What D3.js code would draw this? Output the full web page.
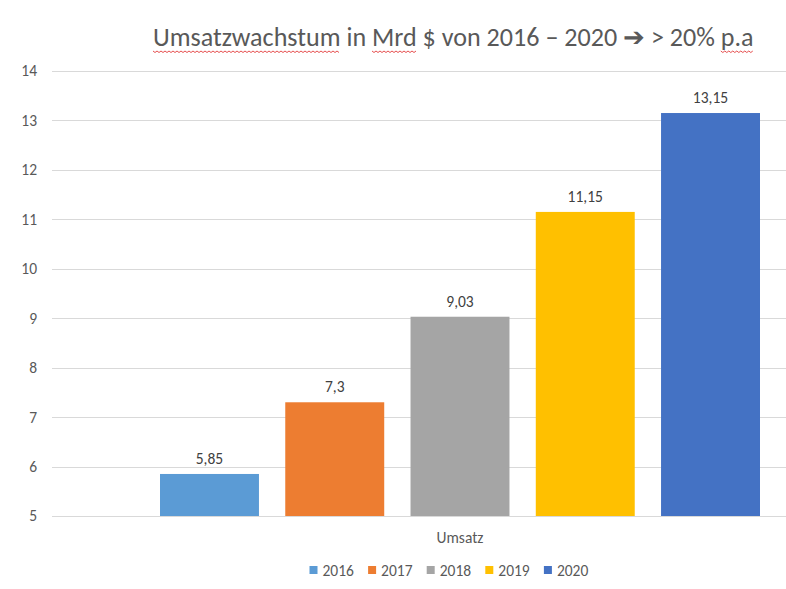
<!DOCTYPE html>
<html><head><meta charset="utf-8">
<script src="https://cdn.jsdelivr.net/npm/d3@7"></script>
<style>body{margin:0;background:#fff}svg{display:block}</style>
</head><body>
<svg id="c" width="786" height="589"></svg>
<script>
const titleText = "Umsatzwachstum in Mrd $ von 2016 – 2020 ➔ > 20% p.a";
const category = "Umsatz";
const years = ["2016","2017","2018","2019","2020"];
const values = [5.85, 7.3, 9.03, 11.15, 13.15];
const valueLabels = ["5,85","7,3","9,03","11,15","13,15"];
const colors = ["#5B9BD5","#ED7D31","#A5A5A5","#FFC000","#4472C4"];
const yTicks = [5,6,7,8,9,10,11,12,13,14];
const underlined = ["Umsatzwachstum","Mrd","p.a"];

const svg = d3.select("#c");
const font = "Carlito, Lato, 'Open Sans', sans-serif";
const txt = "#595959";
const fsz = 15.5;

const y = d3.scaleLinear().domain([5,14]).range([516,71]);
const x = d3.scaleBand().domain(years).range([160,760]).paddingInner(0.21).paddingOuter(0);

// gridlines + y labels
const yAxis = d3.axisLeft(y).tickValues(yTicks).tickSize(-(786-52)).tickPadding(15).tickFormat(d3.format("d"));
const ga = svg.append("g").attr("transform","translate(52,0)").call(yAxis);
ga.select(".domain").remove();
ga.selectAll(".tick line").attr("stroke","#d9d9d9").attr("stroke-width",1).attr("shape-rendering","crispEdges");
ga.selectAll(".tick text").attr("fill",txt).attr("font-family",font).attr("font-size",fsz);

// bars
svg.append("g").selectAll("rect").data(values).join("rect")
  .attr("x",(d,i)=>x(years[i])).attr("width",x.bandwidth())
  .attr("y",d=>y(d)).attr("height",d=>y(5)-y(d))
  .attr("fill",(d,i)=>colors[i]);

// value labels
svg.append("g").selectAll("text").data(values).join("text")
  .attr("x",(d,i)=>x(years[i])+x.bandwidth()/2).attr("y",d=>y(d)-10)
  .attr("text-anchor","middle").attr("fill","#404040").attr("font-family",font).attr("font-size",fsz)
  .text((d,i)=>valueLabels[i]);

// category label
svg.append("text").attr("x",460).attr("y",543).attr("text-anchor","middle")
  .attr("fill",txt).attr("font-family",font).attr("font-size",fsz).text(category);

// legend
const lg = svg.append("g").selectAll("g").data(years).join("g")
  .attr("transform",(d,i)=>`translate(${309.5+i*58.6},0)`);
lg.append("rect").attr("x",0).attr("y",566).attr("width",8).attr("height",8).attr("fill",(d,i)=>colors[i]);
lg.append("text").attr("x",13).attr("y",575.5).attr("fill",txt).attr("font-family",font).attr("font-size",fsz).text(d=>d);

// title
const t = svg.append("text").attr("x",153).attr("y",46).attr("fill",txt)
  .attr("font-family",font).attr("font-size",22).text(titleText);
const w = t.node().getComputedTextLength();
const fs = 22*600/w;
t.attr("font-size",fs);
const tn = t.node();
underlined.forEach(word=>{
  const idx = titleText.indexOf(word);
  const x0 = 153 + tn.getSubStringLength(0, idx);
  const ww = tn.getSubStringLength(idx, word.length);
  const pts = [];
  for(let k=0;k<=Math.floor(ww/2);k++) pts.push([x0+k*2, 51 + (k%2?1.5:0)]);
  svg.append("path").attr("d",d3.line()(pts)).attr("fill","none").attr("stroke","#e23b3b").attr("stroke-width",0.9);
});
</script>
</body></html>
